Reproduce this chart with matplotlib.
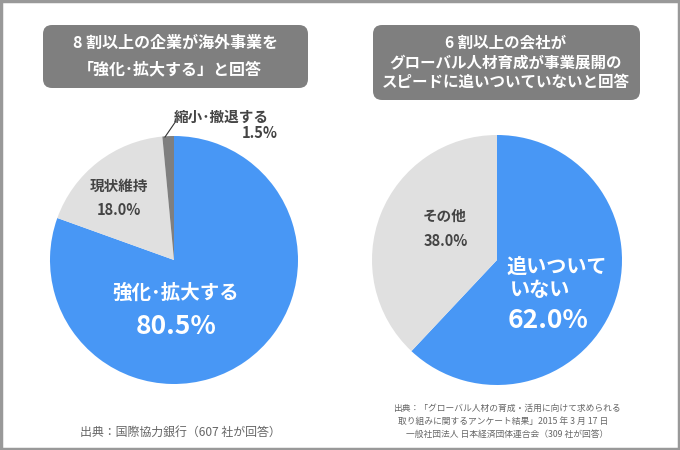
import matplotlib
matplotlib.use("Agg")
import matplotlib.pyplot as plt
from matplotlib.patches import FancyBboxPatch, Rectangle

plt.rcParams['font.family'] = ['Noto Sans CJK JP', 'DejaVu Sans']

# data
left_labels = ["強化･拡大する", "現状維持", "縮小･撤退する"]
left_values = [80.5, 18.0, 1.5]
right_labels = ["追いついていない", "その他"]
right_values = [62.0, 38.0]

BLUE = "#4897F5"
LIGHT = "#E0E0E0"
DARK = "#7F7F7F"
TEXT = "#444444"

W, H = 680, 450
fig = plt.figure(figsize=(6.8, 4.5), dpi=100)
ax = fig.add_axes([0, 0, 1, 1])


def Y(p):
    return H - p


# pies
ax.pie(left_values, colors=[BLUE, LIGHT, DARK], startangle=90,
       counterclock=False, center=(174, Y(260)), radius=124,
       wedgeprops=dict(linewidth=0))
ax.pie(right_values, colors=[BLUE, LIGHT], startangle=90,
       counterclock=False, center=(497, Y(260)), radius=125,
       wedgeprops=dict(linewidth=0))
ax.set_xlim(0, W)
ax.set_ylim(0, H)
ax.set_aspect('equal')
ax.axis('off')

# title boxes
for x0, y0, w, h in [(43, 25, 265, 63), (373, 25, 267, 75)]:
    ax.add_patch(FancyBboxPatch((x0, Y(y0 + h)), w, h,
                                boxstyle="round,pad=0,rounding_size=9",
                                fc=DARK, ec="none"))
ax.text(176, Y(43), "8 割以上の企業が海外事業を", color="white", fontsize=11.5,
        fontweight="bold", ha="center", va="center")
ax.text(170, Y(69), "「強化･拡大する」と回答", color="white", fontsize=11.5,
        fontweight="bold", ha="center", va="center")
for yy, s in [(42, "6 割以上の会社が"), (62, "グローバル人材育成が事業展開の"),
              (82, "スピードに追いついていないと回答")]:
    ax.text(506, Y(yy), s, color="white", fontsize=11.2, fontweight="bold",
            ha="center", va="center")

# left labels
ax.text(176, Y(293), left_labels[0], color="white", fontsize=14,
        fontweight="bold", ha="center", va="center")
ax.text(176, Y(326), f"{left_values[0]:.1f}%", color="white", fontsize=19,
        fontweight="bold", ha="center", va="center")
ax.text(119, Y(186), left_labels[1], color=TEXT, fontsize=10.5,
        fontweight="bold", ha="center", va="center")
ax.text(119, Y(210), f"{left_values[1]:.1f}%", color=TEXT, fontsize=10.5,
        fontweight="bold", ha="center", va="center")
ax.text(174, Y(117), left_labels[2], color=TEXT, fontsize=10.5,
        fontweight="bold", ha="left", va="center")
ax.text(278, Y(133), f"{left_values[2]:.1f}%", color=TEXT, fontsize=10.5,
        fontweight="bold", ha="right", va="center")
ax.plot([165, 176], [Y(137), Y(121)], color="#333333", lw=0.8)

# right labels
ax.text(423, Y(216), right_labels[1], color=TEXT, fontsize=10.5,
        fontweight="bold", ha="left", va="center")
ax.text(424, Y(241), f"{right_values[1]:.1f}%", color=TEXT, fontsize=10.5,
        fontweight="bold", ha="left", va="center")
ax.text(507, Y(266), right_labels[0][:5], color="white", fontsize=14.5,
        fontweight="bold", ha="left", va="center")
ax.text(510, Y(290), right_labels[0][5:], color="white", fontsize=14.5,
        fontweight="bold", ha="left", va="center")
ax.text(508, Y(321), f"{right_values[0]:.1f}%", color="white", fontsize=19,
        fontweight="bold", ha="left", va="center")

# sources
ax.text(80, Y(432), "出典：国際協力銀行（607 社が回答）", color="#666666",
        fontsize=8.6, ha="left", va="center")
src = ["出典：「グローバル人材の育成・活用に向けて求められる",
       "取り組みに関するアンケート結果」2015 年 3 月 17 日",
       "一般社団法人 日本経済団体連合会（309 社が回答）"]
for yy, s, xx in zip([408, 421, 434], src, [393, 398, 406]):
    ax.text(xx, Y(yy), s, color="#666666", fontsize=6.3, ha="left",
            va="center")

# frame
ax.add_patch(Rectangle((1, 1), W - 2, H - 2, fill=False, ec="#999999",
                       lw=2.5))

fig.savefig("out.png", dpi=100)
